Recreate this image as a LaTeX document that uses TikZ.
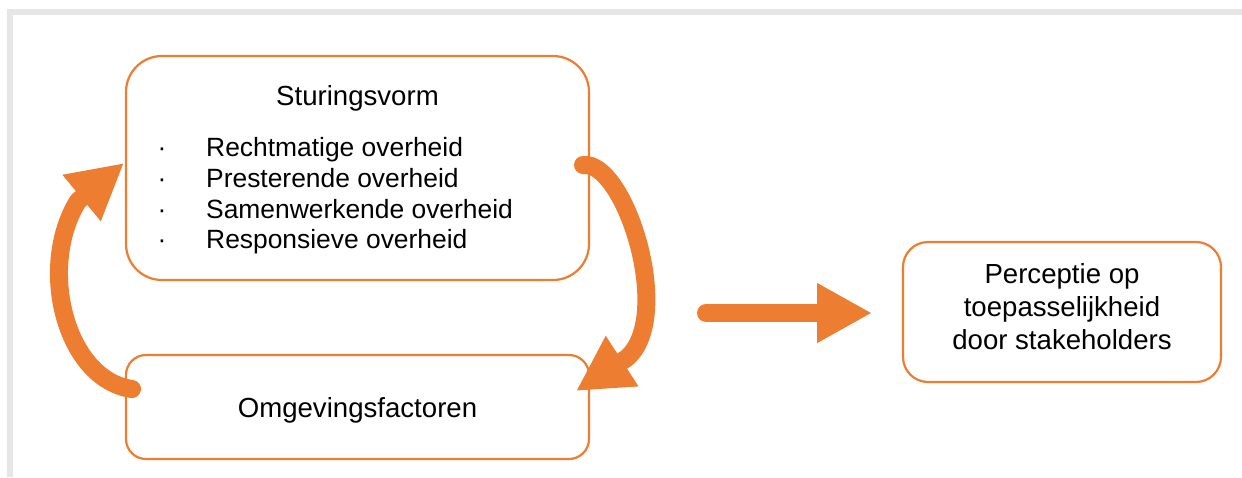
\documentclass[tikz,border=0pt]{standalone}
\usepackage{fontspec}
\setmainfont{Liberation Sans}
\usetikzlibrary{arrows.meta,calc}
\definecolor{accent}{HTML}{ED7D31}
\definecolor{framegray}{HTML}{E6E6E6}
\begin{document}
\begin{tikzpicture}[x=1pt,y=-1pt,
  box/.style={draw=accent, line width=2.2pt, rounded corners=#1, fill=white, inner sep=0pt, outer sep=0pt},
  title/.style={inner sep=0pt, font=\fontsize{27.6}{33}\selectfont},
  item/.style={inner sep=0pt, font=\fontsize{26.4}{30.7}\selectfont},
  fat/.style={draw=accent, line width=18pt, line cap=round, line join=round, -{Triangle[length=55pt,width=56pt]}}]
\useasboundingbox (0,0) rectangle (1242,477);
\fill[framegray] (7,9) rectangle (1242,15);
\fill[framegray] (7,9) rectangle (13,477);

\node[box=36pt, minimum width=463pt, minimum height=224pt] (sv) at (357.5,168) {};
\node[box=20pt, minimum width=463pt, minimum height=104pt] (og) at (357.5,407) {};
\node[box=25pt, minimum width=318pt, minimum height=140pt] (pc) at (1062,312) {};

\node[title, anchor=base] (svt) at (357.5,105) {Sturingsvorm};
\foreach \i/\y in {1/156,2/187,3/218,4/248}
  \node[item, anchor=base] (b\i) at (162,\y) {·};
\node[item, anchor=base west] (i1) at (206,156) {Rechtmatige overheid};
\node[item, anchor=base west] (i2) at (206,187) {Presterende overheid};
\node[item, anchor=base west] (i3) at (206,218) {Samenwerkende overheid};
\node[item, anchor=base west] (i4) at (206,248) {Responsieve overheid};

\node[title, anchor=base] (ogt) at (357.5,417) {Omgevingsfactoren};
\node[title, anchor=north, align=center] (pct) at (1062,263.2) {Perceptie op\\toepasselijkheid\\door stakeholders};

\coordinate (a1s) at ($(og.west)+(6,-18)$);
\coordinate (a1e) at ($(sv.west)+(-2,-5)$);
\draw[fat] (a1s) .. controls (65.5,379.6) and (37,267) .. (78,201) -- (a1e);

\coordinate (a2s) at ($(sv.east)+(-6,-3)$);
\coordinate (a2e) at ($(og.east)+(-13,-16)$);
\draw[fat] (a2s) .. controls (625,160) and (675,318) .. (626.3,358.4) -- (a2e);

\coordinate (a3s) at ($(pc.west)+(-197,1)$);
\coordinate (a3e) at ($(pc.west)+(-31,1)$);
\draw[fat] (a3s) -- (a3e);
\end{tikzpicture}
\end{document}
